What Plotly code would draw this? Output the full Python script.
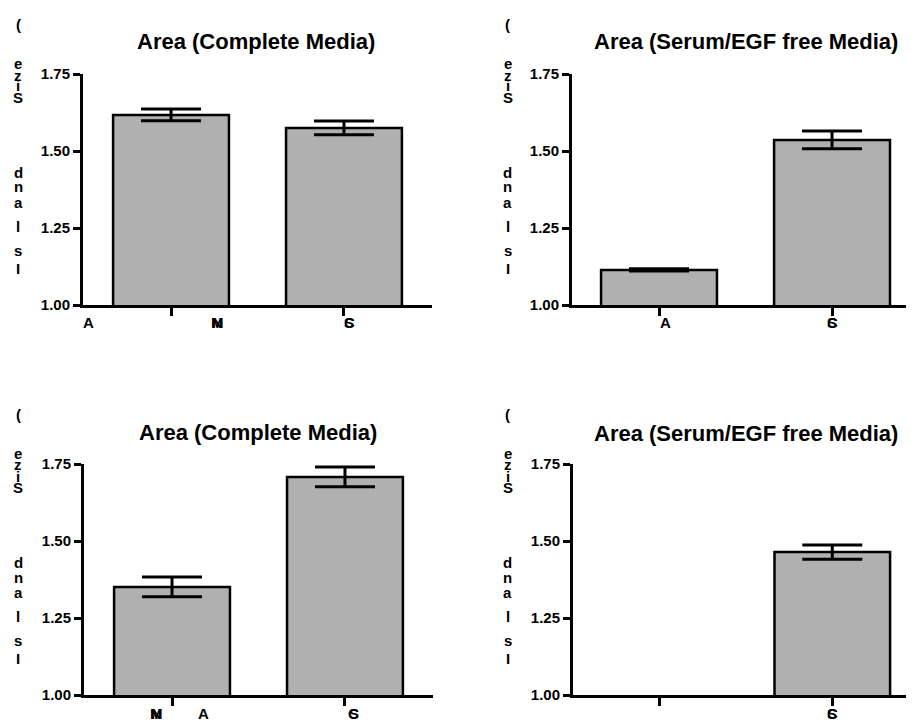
import plotly.graph_objects as go

W, H = 914, 722

# ---------------- data ----------------
categories = [0, 1]
tl_values = [1.617, 1.575]
tl_errors = [0.019, 0.022]
tr_values = [1.114, 1.536]
tr_errors = [0.004, 0.029]
bl_values = [1.351, 1.708]
bl_errors = [0.032, 0.032]
br_values = [None, 1.464]
br_errors = [None, 0.023]

panel_titles = ["Area (Complete Media)", "Area (Serum/EGF free Media)",
                "Area (Complete Media)", "Area (Serum/EGF free Media)"]
y_tick_values = [1.00, 1.25, 1.50, 1.75]
y_tick_labels = ["1.00", "1.25", "1.50", "1.75"]
y_title_chars = ["(", "e", "z", "i", "S", "d", "n", "a", "l", "s", "I"]
# garbled x labels per panel (overlapping glyphs)
tl_xlabels = [["A"], ["M", "N"], ["S", "C"]]
tr_xlabels = [["A"], ["S", "C"]]
bl_xlabels = [["M", "N"], ["A"], ["S", "C"]]
br_xlabels = [["S", "C"]]

# ---------------- layout helpers ----------------
FONT = "Liberation Sans, Arial, sans-serif"
OX, OY = 8, 8  # page body offset


def px_x(p):
    return (p - OX) / W


def px_y(p):
    return 1 - (p - OY) / H


panels = [
    dict(v=tl_values, e=tl_errors, xd=(83, 432), yd=(74, 305), xr=[-0.509, 1.509],
         title=panel_titles[0], tx=256, ty=42, xl=tl_xlabels, xlx=[-0.48, 0.27, 1.03], xly=322,
         ychar_x=18, yoff=0),
    dict(v=tr_values, e=tr_errors, xd=(572, 922), yd=(74, 305), xr=[-0.503, 1.520],
         title=panel_titles[1], tx=746, ty=42, xl=tr_xlabels, xlx=[0.035, 1.0], xly=322,
         ychar_x=508, yoff=0),
    dict(v=bl_values, e=bl_errors, xd=(84, 433), yd=(464, 695), xr=[-0.509, 1.509],
         title=panel_titles[2], tx=258, ty=432, xl=bl_xlabels, xlx=[-0.09, 0.18, 1.05], xly=713,
         ychar_x=18, yoff=390),
    dict(v=br_values, e=br_errors, xd=(573, 922), yd=(464, 695), xr=[-0.503, 1.520],
         title=panel_titles[3], tx=746, ty=433, xl=br_xlabels, xlx=[1.0], xly=713,
         ychar_x=508, yoff=390),
]
ychar_y = [25, 63, 75, 86, 97, 172, 187, 202, 226, 250, 268]

fig = go.Figure()
annotations = []
layout = dict(width=W, height=H, margin=dict(l=0, r=0, t=0, b=0, autoexpand=False),
              paper_bgcolor="white", plot_bgcolor="white", showlegend=False,
              font=dict(family=FONT, color="black"))

for i, p in enumerate(panels):
    n = "" if i == 0 else str(i + 1)
    fig.add_trace(go.Bar(
        x=categories, y=p["v"], width=0.67,
        marker=dict(color="#b0b0b0", line=dict(color="black", width=2.5)),
        error_y=dict(type="data", array=p["e"], color="black", thickness=3, width=30, visible=True),
        xaxis="x" + n, yaxis="y" + n,
    ))
    layout["xaxis" + n] = dict(
        domain=[max(0, px_x(p["xd"][0])), min(1, px_x(p["xd"][1]))], range=p["xr"], anchor="y" + n,
        showgrid=False, zeroline=False, showline=True, linecolor="black", linewidth=3,
        ticks="outside", tickvals=categories, ticklen=8, tickwidth=3, tickcolor="black",
        showticklabels=False, fixedrange=True, automargin=False)
    layout["yaxis" + n] = dict(
        domain=[px_y(p["yd"][1]), px_y(p["yd"][0])], range=[1.0, 1.75], anchor="x" + n,
        showgrid=False, zeroline=False, showline=True, linecolor="black", linewidth=3,
        ticks="outside", tickvals=y_tick_values, ticktext=y_tick_labels,
        ticklen=7, tickwidth=3, tickcolor="black", automargin=False,
        tickfont=dict(family=FONT, size=15, color="black", weight="bold"), fixedrange=True)
    annotations.append(dict(
        text="<b>" + p["title"] + "</b>", x=px_x(p["tx"]), y=px_y(p["ty"]),
        xref="paper", yref="paper", showarrow=False, xanchor="center", yanchor="middle",
        font=dict(family=FONT, size=22, color="black")))
    for ch, cy in zip(y_title_chars, ychar_y):
        annotations.append(dict(
            text="<b>" + ch + "</b>", x=px_x(p["ychar_x"]), y=px_y(cy + p["yoff"]),
            xref="paper", yref="paper", showarrow=False, xanchor="center", yanchor="middle",
            font=dict(family=FONT, size=15, color="black")))
    for glyphs, gx in zip(p["xl"], p["xlx"]):
        for g in glyphs:
            annotations.append(dict(
                text="<b>" + g + "</b>", x=gx, y=px_y(p["xly"]),
                xref="x" + n, yref="paper", showarrow=False, xanchor="center", yanchor="middle",
                font=dict(family=FONT, size=15, color="black")))

layout["annotations"] = annotations
fig.update_layout(**layout)
fig.write_html("out.html")
